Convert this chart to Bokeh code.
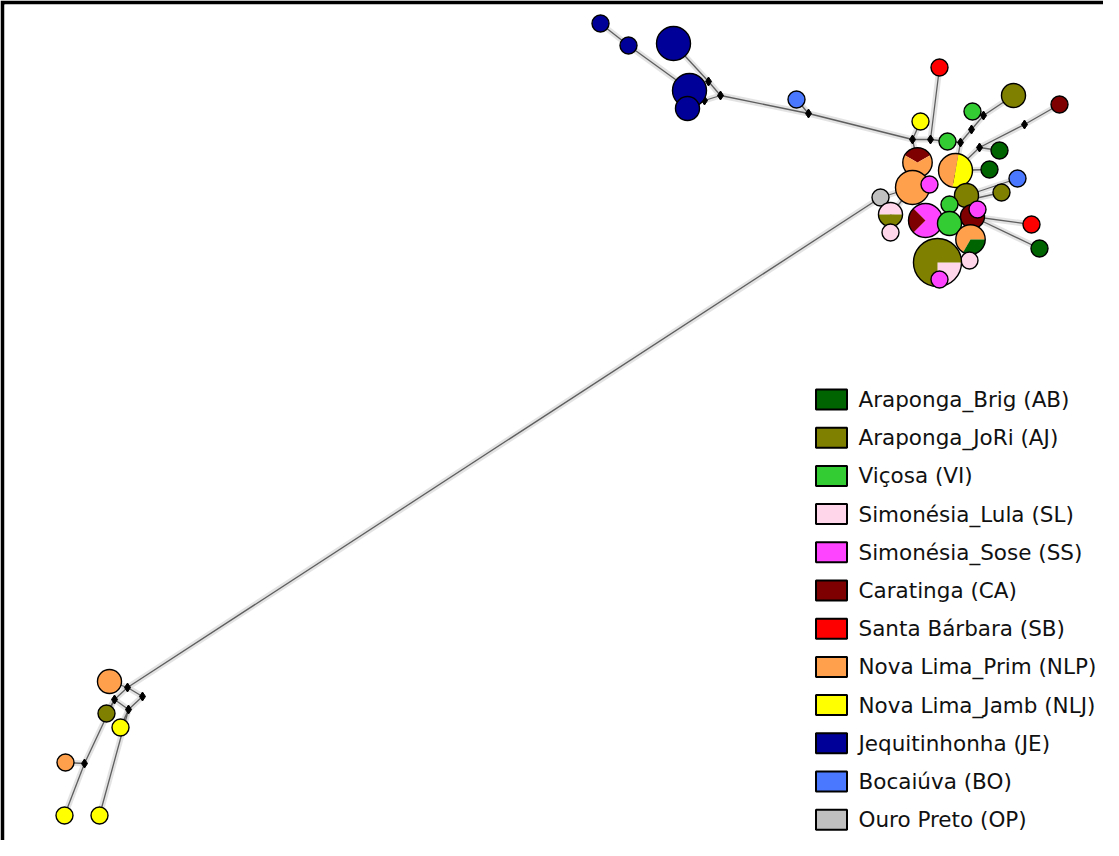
import math
from bokeh.plotting import figure
from bokeh.models import Range1d
from bokeh.embed import file_html
from bokeh.resources import INLINE
from bokeh.core.properties import value

# ---------------- populations (legend) ----------------
pop_codes = ["AB", "AJ", "VI", "SL", "SS", "CA", "SB", "NLP", "NLJ", "JE", "BO", "OP"]
pop_names = ["Araponga_Brig", "Araponga_JoRi", "Viçosa", "Simonésia_Lula",
             "Simonésia_Sose", "Caratinga", "Santa Bárbara", "Nova Lima_Prim",
             "Nova Lima_Jamb", "Jequitinhonha", "Bocaiúva", "Ouro Preto"]
pop_colors = ["#006400", "#808000", "#33cc33", "#ffd6ea", "#ff44ff", "#7f0000",
              "#ff0000", "#ffa04c", "#ffff00", "#000099", "#4a78ff", "#c0c0c0"]

# ---------------- haplotypes (network nodes) ----------------
hap_ids = ["JE1", "JE2", "JE3", "JE4", "JE5", "BO1",
           "SB1", "AJ1", "CA1", "VI1", "NLJ1", "VI2", "AB1", "AB2", "BO2", "AJ2",
           "SB2", "AB3", "OP1", "SLAJ", "SL1",
           "CANLP", "NLPbig", "NLPNLJ", "SS1", "AJ3", "VI3", "CA2", "SS2",
           "SSCA", "VI4", "NLPAB", "SL2", "AJSL", "SS3",
           "NLPb1", "AJb", "NLJb1", "NLPb2", "NLJb2", "NLJb3"]
hap_x = [608, 636, 681, 697, 695, 804,
         947, 1021, 1067, 980, 928, 955, 1007, 997, 1025, 1009,
         1039, 1047, 888, 898, 898,
         925, 920, 963, 937, 974, 957, 980, 985,
         933, 957, 978, 977, 945, 947,
         117, 114, 128, 73, 72, 107]
hap_y = [31, 53, 51, 98, 116, 107,
         75, 103, 112, 119, 129, 149, 158, 177, 186, 200,
         232, 256, 205, 222, 240,
         170, 195, 178, 192, 203, 212, 224, 217,
         228, 231, 247, 268, 270, 287,
         689, 721, 735, 770, 823, 823]
hap_comp = [
    {"JE": 1}, {"JE": 1}, {"JE": 4}, {"JE": 4}, {"JE": 2}, {"BO": 1},
    {"SB": 1}, {"AJ": 2}, {"CA": 1}, {"VI": 1}, {"NLJ": 1}, {"VI": 1},
    {"AB": 1}, {"AB": 1}, {"BO": 1}, {"AJ": 1},
    {"SB": 1}, {"AB": 1}, {"OP": 1}, {"SL": 1, "AJ": 1}, {"SL": 1},
    {"CA": 1, "NLP": 2}, {"NLP": 4}, {"NLJ": 2, "NLP": 2}, {"SS": 1},
    {"AJ": 2}, {"VI": 1}, {"CA": 2}, {"SS": 1},
    {"SS": 3, "CA": 1}, {"VI": 2}, {"NLP": 2, "AB": 1}, {"SL": 1},
    {"SL": 2, "AJ": 6}, {"SS": 1},
    {"NLP": 2}, {"AJ": 1}, {"NLJ": 1}, {"NLP": 1}, {"NLJ": 1}, {"NLJ": 1},
]
# pie start angle (degrees, counter-clockwise from east as seen on screen)
hap_start = [0] * len(hap_ids)
hap_start[hap_ids.index("SLAJ")] = 0
hap_start[hap_ids.index("CANLP")] = 30
hap_start[hap_ids.index("NLPNLJ")] = -100
hap_start[hap_ids.index("SSCA")] = -135
hap_start[hap_ids.index("NLPAB")] = 0
hap_start[hap_ids.index("AJSL")] = -90

# ---------------- median vectors ----------------
med_ids = ["M1", "M2", "M3", "M4", "M5", "M6", "M7", "M8", "M9", "M10", "M11",
           "M12", "M13", "M14", "M15", "M16", "M17", "M18"]
med_x = [716, 728, 712, 816, 920, 938, 968, 979, 991, 987, 1032,
         962, 969, 135, 122, 150, 136, 92]
med_y = [89, 103, 108, 121, 147, 147, 150, 137, 123, 155, 132,
         187, 209, 695, 707, 704, 717, 771]

# ---------------- network links ----------------
edges = [
    ("JE1", "JE2"), ("JE2", "M3"), ("JE3", "M1"), ("M1", "M2"), ("M3", "M2"),
    ("M3", "JE4"), ("M2", "M4"), ("BO1", "M4"), ("M4", "M5"),
    ("NLJ1", "M5"), ("M5", "M6"), ("SB1", "M6"), ("M5", "CANLP"), ("M6", "VI2"),
    ("VI2", "M7"), ("M7", "M8"), ("M8", "M9"), ("M9", "AJ1"), ("M9", "VI1"),
    ("M7", "NLPNLJ"), ("CA1", "M11"), ("M11", "M10"), ("M10", "AB1"),
    ("M10", "NLPNLJ"), ("AB2", "NLPNLJ"), ("BO2", "AJ3"), ("AJ2", "M13"),
    ("SB2", "CA2"), ("AB3", "CA2"), ("OP1", "NLPbig"), ("SLAJ", "NLPbig"),
    ("SL1", "SLAJ"), ("M12", "NLPNLJ"),
    ("M14", "OP1"),
    ("M14", "NLPb1"), ("M14", "M15"), ("M14", "M16"), ("M15", "AJb"),
    ("M15", "M17"), ("M17", "NLJb1"), ("M15", "M18"), ("M18", "NLJb2"),
    ("M18", "NLPb2"), ("M17", "NLJb3"), ("M16", "M17"),
]

# ---------------- figure ----------------
p = figure(width=1103, height=840, x_range=Range1d(12, 1111), y_range=Range1d(848, 12),
           x_axis_type=None, y_axis_type=None, output_backend="svg",
           toolbar_location=None, min_border_left=4, min_border_top=4,
           min_border_right=0, min_border_bottom=0)
p.grid.visible = False
p.outline_line_color = None
p.border_fill_color = "black"
p.background_fill_color = "white"

pos = {}
for i, h in enumerate(hap_ids):
    pos[h] = (hap_x[i], hap_y[i])
for i, m in enumerate(med_ids):
    pos[m] = (med_x[i], med_y[i])

xs = [[pos[a][0], pos[b][0]] for a, b in edges]
ys = [[pos[a][1], pos[b][1]] for a, b in edges]
p.multi_line(xs, ys, line_color="#c8c8c8", line_width=6, line_alpha=0.5)
p.multi_line(xs, ys, line_color="#5e5e5e", line_width=1.3)

p.scatter(med_x, med_y, marker="diamond", size=9, color="black")

col = dict(zip(pop_codes, pop_colors))
BASE_R = 8.5
for i, h in enumerate(hap_ids):
    comp = hap_comp[i]
    total = sum(comp.values())
    r = BASE_R * math.sqrt(total)
    x, y = hap_x[i], hap_y[i]
    if len(comp) == 1:
        code = list(comp)[0]
        p.circle([x], [y], radius=r, fill_color=col[code], line_color="black", line_width=1.4)
    else:
        a = hap_start[i]
        for code, c in comp.items():
            span = 360.0 * c / total
            p.wedge([x], [y], radius=r, start_angle=math.radians(a),
                    end_angle=math.radians(a + span), direction="anticlock",
                    fill_color=col[code], line_color=None)
            a += span
        p.circle([x], [y], radius=r, fill_color=None, line_color="black", line_width=1.4)

# ---------------- legend ----------------
leg_y0, leg_dy = 407, 38.2
leg_y = [leg_y0 + k * leg_dy for k in range(len(pop_codes))]
leg_labels = [f"{n} ({c})" for n, c in zip(pop_names, pop_codes)]
p.rect([839] * len(leg_y), leg_y, width=31, height=20, fill_color=pop_colors,
       line_color="black", line_width=2)
p.text([866] * len(leg_y), leg_y, text=leg_labels, text_baseline="middle",
       text_align="left", text_font=value("DejaVu Sans"), text_font_size="21.5px",
       text_color="#111111")

open("out.html", "w").write(file_html(p, INLINE))
